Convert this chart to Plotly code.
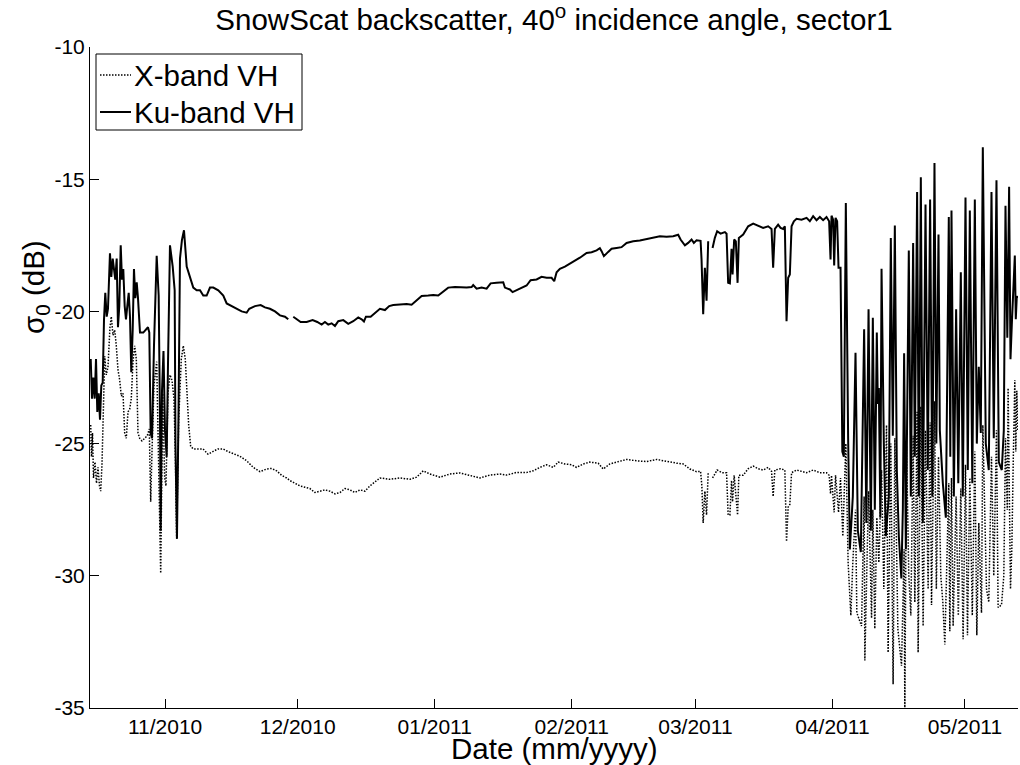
import pandas as pd
import plotly.graph_objects as go

# Time origin of the record; sample times are stored as days since this date
START = pd.Timestamp("2010-10-15")

# Ku-band VH backscatter (dB); None marks a gap in the record
ku_days = [
    0.16, 0.45, 0.75, 1.06, 1.36, 1.65, 1.97, 2.26, 2.56, 2.87,
    3.17, 3.46, 3.78, 4.07, 4.52, 4.82, 5.14, 5.43, 5.72, 6.04,
    6.33, 6.63, 6.95, 7.24, 7.53, 7.85, 8.14, 8.44, 8.76, 9.05,
    9.34, 9.66, 9.95, 10.25, 10.57, 10.86, 11.31, 12.06, 12.67, 13.12,
    13.42, 13.73, 14.03, 14.48, 15.09, 15.54, 15.84, 16.0, 16.29, 16.63,
    16.97, 17.35, 17.65, 18.1, 18.71, 19.16, 19.34, 19.68, 20.02, 20.36,
    20.81, 21.27, 21.88, 22.62, 23.37, 24.14, 24.89, 25.63, 26.4, 27.15,
    27.9, 29.03, 30.16, 30.93, 32.06, 33.19, 34.32, 35.45, 36.04, 37.33,
    38.62, 39.59, 40.72, 41.86, 42.99, 44.12, 44.86, None, 46.0, 46.76,
    47.67, 49.03, 50.38, 51.43, 52.42, 53.17, 53.91, 54.68, 55.43, 56.18,
    57.31, 58.44, 59.57, 60.7, 61.47, 61.99, 62.44, 63.51, 64.48, 65.61,
    66.74, 67.71, 68.62, 70.14, 71.65, 72.78, 73.91, 75.05, 76.54, 77.67,
    78.8, 79.8, 81.06, 82.58, 84.1, 85.23, 86.36, 86.72, 87.49, 88.62,
    89.75, 90.66, 92.01, 93.51, 93.89, 95.02, 95.63, 96.54, 97.67, 98.8,
    99.71, 101.06, 102.19, 103.33, 104.46, 105.05, 105.59, 106.33, 107.47, 108.6,
    109.73, 110.86, 112.38, 113.51, 114.64, 115.38, 115.77, 116.29, 117.26, 118.03,
    119.16, 120.29, 121.43, 122.92, 124.43, 125.95, 127.44, 128.96, 130.47, 131.97,
    133.1, 133.64, 134.62, 135.36, 136.13, 136.65, 137.26, 138.17, 138.39, 138.76,
    139.14, 139.52, 139.89, None, 140.88, 141.4, 141.92, 142.69, 143.67, 144.05,
    144.41, 144.8, 145.18, 145.41, 145.77, 146.15, 146.54, 146.83, 147.81, 148.94,
    150.07, 151.2, 152.33, 153.46, 154.23, 154.59, 154.98, 155.72, 156.27, 156.86,
    157.24, 157.62, 157.99, 158.37, 158.76, 159.28, 159.89, 161.02, 162.15, 162.9,
    163.64, 164.41, 165.16, 165.9, 166.67, 167.26, 167.58, 167.8, 168.17, 168.4,
    168.71, 169.07, 169.39, 169.84, 170.25, 170.59, 171.04, 171.56, 171.95, 172.62,
    173.23, 173.76, 174.43, 175.18, 175.68, 176.18, 176.7, 177.15, 177.6, 178.05,
    178.28, 178.51, 178.85, 179.12, 179.64, 180.09, 180.77, 181.22, 181.67, 182.13,
    182.58, 183.03, 183.6, 183.94, 184.23, 184.62, 185.29, 185.75, 186.27, 186.65,
    187.17, 187.56, 188.01, 188.46, 189.07, 189.59, 190.11, 190.61, 191.1, 191.52,
    192.01, 192.31, 192.99, 193.67, 194.34, 194.68, 194.95, 195.48, 196.0, 196.49,
    197.06, 197.51, 198.12, 198.64, 199.1, 199.66, 200.23, 200.68, 201.13, 201.58,
    202.04, 202.71, 203.39, 204.0, 204.52, 205.13, 205.66, 206.33, 206.79, 207.17,
    207.58, 207.99, 208.3, 208.6, 208.94, 209.28, 209.5, 209.73, 209.95,
]
ku_db = [
    -21.8, -23.3, -22.5, -23.3, -21.8, -23.8, -23.1, -24.1, -22.8, -22.7,
    -20.3, -19.3, -20.2, -19.9, -17.8, -18.7, -18.0, -18.4, -18.8, -18.0,
    -20.6, -19.8, -17.5, -18.8, -18.4, -19.8, -20.3, -19.8, -19.3, -20.2,
    -22.3, -20.7, -18.4, -19.5, -18.9, -19.5, -20.8, -20.8, -20.7, -20.6,
    -20.8, -24.6, -24.8, -21.3, -17.9, -19.4, -24.1, -28.3, -23.0, -21.5,
    -24.5, -25.5, -22.0, -17.5, -18.3, -19.2, -25.0, -28.6, -24.0, -18.0,
    -17.3, -16.93, -18.3, -18.7, -19.1, -19.2, -19.2, -19.4, -19.4, -19.1,
    -19.1, -19.2, -19.4, -19.7, -19.8, -19.9, -20.0, -20.05, -19.9, -19.8,
    -19.76, -19.85, -19.9, -20.0, -20.15, -20.2, -20.3, None, -20.2, -20.3,
    -20.4, -20.4, -20.33, -20.4, -20.5, -20.4, -20.5, -20.45, -20.55, -20.37,
    -20.33, -20.47, -20.37, -20.23, -20.3, -20.38, -20.2, -20.2, -20.05, -19.9,
    -19.95, -19.8, -19.76, -19.75, -19.72, -19.75, -19.6, -19.42, -19.4, -19.38,
    -19.4, -19.27, -19.1, -19.08, -19.1, -19.1, -19.08, -19.0, -19.14, -19.1,
    -19.14, -18.94, -18.92, -18.9, -19.1, -19.17, -19.27, -19.2, -19.1, -19.02,
    -18.82, -18.79, -18.69, -18.73, -18.73, -18.86, -18.52, -18.39, -18.31, -18.2,
    -18.06, -17.97, -17.79, -17.76, -17.69, -17.61, -17.72, -17.91, -17.75, -17.63,
    -17.6, -17.57, -17.41, -17.35, -17.32, -17.26, -17.23, -17.16, -17.18, -17.16,
    -17.1, -17.28, -17.5, -17.41, -17.28, -17.41, -17.31, -17.33, -18.04, -20.11,
    -18.35, -19.6, -17.35, None, -17.6, -17.22, -16.97, -17.06, -17.0, -17.06,
    -18.92, -18.94, -17.63, -18.6, -17.28, -17.35, -18.92, -17.22, -17.09, -16.78,
    -16.68, -16.75, -16.84, -16.78, -16.88, -18.35, -16.88, -16.72, -16.84, -16.88,
    -16.78, -20.37, -18.73, -18.6, -16.78, -16.59, -16.5, -16.53, -16.46, -16.59,
    -16.4, -16.55, -16.43, -16.55, -16.43, -16.59, -18.04, -16.38, -16.53, -18.26,
    -16.46, -16.59, -18.35, -18.35, -25.3, -25.5, -15.9, -24.8, -29.0, -27.0,
    -21.56, -28.3, -29.1, -20.68, -28.0, -19.92, -28.3, -20.24, -27.5, -20.8,
    -23.5, -22.9, -27.8, -18.39, -25.0, -28.5, -27.0, -17.22, -24.7, -16.75,
    -26.0, -28.5, -30.1, -27.5, -21.58, -29.0, -17.7, -27.0, -17.41, -25.5,
    -15.48, -27.0, -14.93, -28.0, -15.96, -26.0, -15.77, -27.0, -14.39, -25.0,
    -17.09, -24.5, -26.5, -27.8, -16.43, -25.5, -16.18, -27.0, -19.92, -26.5,
    -18.52, -27.0, -15.69, -26.0, -16.18, -26.5, -15.77, -25.0, -22.09, -24.6,
    -13.79, -25.0, -26.0, -15.48, -24.8, -15.04, -25.7, -26.0, -24.5, -16.0,
    -21.0, -15.29, -21.81, -20.5, -19.0, -17.89, -20.3, -19.42, -19.5,
]

# X-band VH backscatter (dB); None marks a gap in the record
xb_days = [
    0.16, 0.34, 0.57, 0.79, 1.13, 1.47, 1.81, 2.15, 2.42, 2.71,
    2.94, 3.33, 3.69, 4.07, 4.52, 4.82, 5.2, 5.59, 5.95, 6.33,
    6.72, 7.08, 7.47, 7.85, 8.21, 8.6, 8.98, 9.34, 9.73, 10.11,
    10.48, 10.86, 11.24, 11.76, 12.38, 12.96, 13.42, 13.73, 14.03, 14.48,
    15.09, 15.54, 16.0, 16.45, 16.9, 17.19, 17.65, 18.1, 18.55, 19.0,
    19.3, 19.61, 20.07, 20.66, 21.11, 21.56, 22.01, 22.33, 22.78, 23.37,
    24.43, 25.57, 26.7, 27.83, 28.96, 30.09, 31.22, 32.74, 33.94, 35.45,
    36.95, 38.46, 39.98, 41.11, 42.24, 43.37, 44.5, 45.25, 46.38, 47.51,
    48.64, 49.77, 50.9, 52.04, 53.17, 54.3, 55.43, 56.56, 57.69, 58.82,
    59.95, 61.09, 62.22, 63.35, 64.48, 65.61, 67.87, 70.14, 72.4, 73.91,
    75.41, 76.92, 79.19, 81.45, 83.71, 85.97, 88.24, 90.5, 92.76, 94.28,
    96.54, 98.8, 100.29, 101.81, 103.33, 104.82, 105.95, 107.47, 108.98, 110.11,
    111.61, 113.12, 115.0, 116.13, 117.65, 119.16, 121.43, 123.69, 125.95, 128.21,
    130.47, 132.74, 134.23, 135.75, 137.26, 138.17, 138.46, 138.76, 139.14, 139.52,
    139.89, None, 140.88, 141.92, 142.99, 144.05, 144.41, 144.8, 145.18, 145.41,
    145.77, 146.54, 146.83, 147.81, 148.94, 150.07, 151.2, 152.33, 153.46, 154.23,
    154.59, 154.98, 156.27, 157.24, 157.62, 157.99, 158.37, 158.76, 159.89, 161.02,
    162.15, 163.64, 165.16, 166.67, 167.26, 167.58, 167.8, 168.4, 168.71, 169.39,
    169.84, 170.36, 171.04, 171.56, 172.17, 172.62, 173.23, 173.53, 174.59, 175.18,
    175.34, 176.18, 176.86, 177.15, 177.6, 178.05, 178.51, 179.12, 179.64, 180.25,
    180.61, 181.22, 181.74, 182.13, 182.81, 183.64, 184.23, 184.39, 184.77, 185.29,
    185.75, 186.27, 186.65, 187.17, 187.4, 188.01, 188.53, 189.07, 189.66, 190.11,
    190.43, 191.1, 191.52, 192.01, 192.53, 192.99, 193.44, 194.34, 194.57, 194.95,
    195.32, 196.0, 196.49, 197.06, 197.58, 198.12, 198.57, 199.1, 199.66, 200.23,
    200.68, 201.13, 201.74, 202.04, 202.87, 203.39, 204.0, 204.52, 205.13, 205.5,
    206.27, 206.79, 207.17, 207.58, 207.76, 208.3, 208.6, 208.94, 209.28, 209.5,
    209.73, 209.95,
]
xb_db = [
    -24.3, -25.5, -24.6, -26.3, -25.7, -26.5, -25.9, -26.6, -26.8, -25.8,
    -24.3, -21.7, -22.4, -22.1, -20.6, -20.2, -20.9, -20.7, -21.3, -22.2,
    -22.6, -23.2, -23.1, -24.6, -24.8, -23.8, -23.7, -23.3, -21.9, -21.3,
    -21.8, -24.6, -24.8, -24.9, -24.8, -24.7, -24.45, -27.2, -25.3, -22.8,
    -21.9, -25.3, -29.9, -23.1, -26.3, -26.6, -23.1, -22.4, -22.6, -23.3,
    -25.3, -28.6, -24.1, -21.8, -21.3, -21.8, -23.6, -24.3, -25.1, -25.2,
    -25.2, -25.2, -25.4, -25.3, -25.2, -25.2, -25.3, -25.4, -25.48, -25.65,
    -25.9, -26.06, -25.96, -25.94, -26.03, -26.2, -26.3, -26.4, -26.5, -26.6,
    -26.65, -26.7, -26.85, -26.8, -26.75, -26.8, -26.9, -26.85, -26.7, -26.75,
    -26.85, -26.75, -26.8, -26.6, -26.45, -26.3, -26.35, -26.3, -26.35, -26.27,
    -26.03, -26.15, -26.27, -26.15, -26.11, -26.2, -26.3, -26.19, -26.15, -26.19,
    -26.09, -26.09, -26.03, -25.9, -25.8, -25.9, -25.7, -25.77, -25.8, -25.9,
    -25.77, -25.7, -25.74, -25.96, -25.77, -25.7, -25.6, -25.65, -25.68, -25.6,
    -25.68, -25.74, -25.77, -25.96, -26.06, -26.05, -26.6, -28.0, -26.8, -27.7,
    -26.1, None, -26.3, -26.0, -26.1, -26.1, -27.7, -27.7, -26.4, -27.2,
    -26.2, -27.7, -26.2, -26.2, -25.95, -25.85, -25.95, -26.0, -25.9, -26.05,
    -27.0, -26.0, -25.95, -26.0, -28.7, -27.4, -27.3, -26.1, -26.0, -26.05,
    -26.1, -26.0, -26.1, -26.1, -26.2, -26.9, -26.2, -27.6, -26.2, -27.6,
    -26.3, -28.5, -25.0, -29.5, -31.5, -29.5, -27.5, -31.4, -31.9, -27.0,
    -33.2, -26.8, -31.6, -27.5, -32.0, -27.8, -29.5, -26.0, -30.5, -24.3,
    -32.9, -25.0, -34.1, -24.8, -32.0, -33.4, -29.0, -35.1, -25.1, -30.0,
    -31.5, -24.7, -31.0, -23.8, -32.9, -23.6, -31.9, -24.5, -30.5, -24.2,
    -31.1, -23.4, -30.5, -25.5, -30.0, -31.0, -32.6, -26.5, -32.1, -26.3,
    -31.9, -27.0, -31.5, -26.7, -32.4, -25.8, -32.25, -26.3, -31.5, -25.3,
    -32.25, -28.0, -31.4, -24.3, -30.5, -31.0, -25.5, -30.0, -24.5, -31.2,
    -31.1, -30.0, -24.8, -27.5, -22.9, -30.5, -29.0, -25.5, -22.6, -25.3,
    -23.0, -24.5,
]

# Axis ticks
x_tick_dates = ["2010-11-01", "2010-12-01", "2011-01-01", "2011-02-01",
                "2011-03-01", "2011-04-01", "2011-05-01"]
x_tick_text = ["11/2010", "12/2010", "01/2011", "02/2011",
               "03/2011", "04/2011", "05/2011"]
y_tick_vals = [-35, -30, -25, -20, -15, -10]
y_tick_text = ["-35", "-30", "-25", "-20", "-15", "-10"]
x_range = ["2010-10-15", "2011-05-13"]
y_range = [-35, -10]

series_names = ["X-band VH", "Ku-band VH"]


def to_times(days):
    return [None if d is None else START + pd.Timedelta(days=d) for d in days]


FONT = "Liberation Sans, Arial, Helvetica, sans-serif"
LABEL_SIZE = 29.5
TICK_SIZE = 21
DOT = "1.5px,1.5px"

# Plot-area geometry in pixels (figure 1020 x 765)
W, H = 1020, 765
ML, MR, MT, MB = 90, 2, 47, 57
PW, PH = W - ML - MR, H - MT - MB


def px(xp):
    return (xp - ML) / PW


def py(yp):
    return (H - MB - yp) / PH


fig = go.Figure()
fig.add_trace(go.Scatter(
    x=to_times(xb_days), y=xb_db, mode="lines", name=series_names[0],
    line=dict(color="black", width=1.5, dash=DOT), showlegend=False,
))
fig.add_trace(go.Scatter(
    x=to_times(ku_days), y=ku_db, mode="lines", name=series_names[1],
    line=dict(color="black", width=2), showlegend=False,
))

axis_common = dict(
    showline=True, linecolor="black", linewidth=1, mirror=False,
    ticks="inside", ticklen=9, tickwidth=1, tickcolor="black",
    showgrid=False, zeroline=False,
    tickfont=dict(family=FONT, size=TICK_SIZE, color="black"),
)
fig.update_xaxes(type="date", range=x_range, tickmode="array",
                 tickvals=x_tick_dates, ticktext=x_tick_text, **axis_common)
fig.update_yaxes(range=y_range, tickmode="array",
                 tickvals=y_tick_vals, ticktext=y_tick_text, **axis_common)

# Legend box drawn in the plot's top-left corner
legend_shapes = [
    dict(type="rect", xref="paper", yref="paper",
         x0=px(96), x1=px(302), y0=py(130), y1=py(54),
         line=dict(color="black", width=1), fillcolor="white", layer="above"),
    dict(type="line", xref="paper", yref="paper",
         x0=px(100), x1=px(131), y0=py(75), y1=py(75),
         line=dict(color="black", width=1.5, dash=DOT), layer="above"),
    dict(type="line", xref="paper", yref="paper",
         x0=px(100), x1=px(131), y0=py(112), y1=py(112),
         line=dict(color="black", width=2), layer="above"),
]
legend_labels = [
    dict(text=series_names[0], xref="paper", yref="paper",
         x=px(132), y=py(76), xanchor="left", yanchor="middle",
         showarrow=False, font=dict(family=FONT, size=LABEL_SIZE, color="black")),
    dict(text=series_names[1], xref="paper", yref="paper",
         x=px(132), y=py(113), xanchor="left", yanchor="middle",
         showarrow=False, font=dict(family=FONT, size=LABEL_SIZE, color="black")),
]

fig.update_layout(
    width=W, height=H,
    margin=dict(l=ML, r=MR, t=MT, b=MB),
    paper_bgcolor="white", plot_bgcolor="white",
    font=dict(family=FONT, color="black"),
    showlegend=False,
    title=dict(
        text="SnowScat backscatter, 40<sup>o</sup> incidence angle, sector1",
        x=0.5, xref="paper", xanchor="center",
        y=1 - 20 / H, yref="container", yanchor="middle",
        font=dict(family=FONT, size=LABEL_SIZE, color="black"),
    ),
    shapes=legend_shapes,
    annotations=legend_labels + [
        dict(text="Date (mm/yyyy)", xref="paper", yref="paper",
             x=0.5, y=py(748), xanchor="center", yanchor="middle",
             showarrow=False,
             font=dict(family=FONT, size=LABEL_SIZE, color="black")),
        dict(text="σ<sub>0</sub> (dB)", xref="paper", yref="paper",
             x=px(35), y=py(287), xanchor="center", yanchor="middle",
             textangle=-90, showarrow=False,
             font=dict(family=FONT, size=LABEL_SIZE, color="black")),
    ],
)

fig.write_html("out.html")
